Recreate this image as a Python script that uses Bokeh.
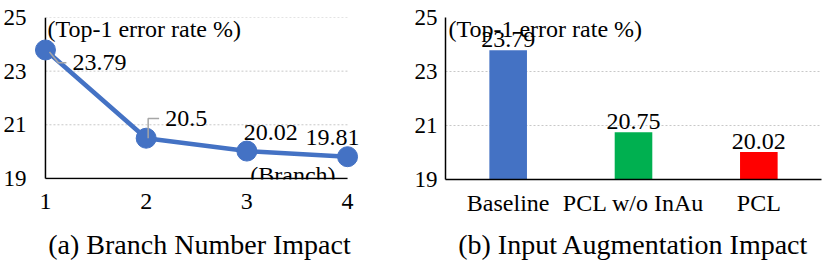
from bokeh.plotting import figure
from bokeh.layouts import row
from bokeh.models import (ColumnDataSource, LabelSet, Label, Range1d, FactorRange,
                          FixedTicker)
from bokeh.core.properties import value
from bokeh.embed import file_html
from bokeh.resources import INLINE

# ---------------- data ----------------
branches = [1, 2, 3, 4]
branch_err = [23.79, 20.5, 20.02, 19.81]
y_ticks = [19, 21, 23, 25]
grid_vals = [21, 23, 25]

methods = ["Baseline", "PCL w/o InAu", "PCL"]
method_err = [23.79, 20.75, 20.02]
method_colors = ["#4472C4", "#00B050", "#FF0000"]

y_title = "(Top-1 error rate %)"
x_unit = "(Branch)"
caption_a = "(a) Branch Number Impact"
caption_b = "(b) Input Augmentation Impact"

# ---------------- style ----------------
FONT = "Liberation Serif"
BLUE = "#4472C4"
GRID = "#c8c8c8"
H = 264

# left chart geometry
PXX = 101.0            # px per branch unit
PAD_L, PAD_R = 12, 18  # px of frame around first/last branch
X0 = branches[0] - PAD_L / PXX
X1 = branches[-1] + PAD_R / PXX
FW1 = (X1 - X0) * PXX
MBL1, MBT1, MBB1 = 32, 15, 85
W1 = 411
MBR1 = int(round(W1 - MBL1 - FW1))
FH1 = H - MBT1 - MBB1
Y0 = 18.96
PXY = FH1 / (y_ticks[-1] - Y0)


def style_axis(ax, size, standoff, line=True):
    ax.axis_line_color = "black" if line else None
    ax.axis_line_width = 1.5
    ax.major_tick_out = 0
    ax.major_tick_in = 0
    ax.minor_tick_out = 0
    ax.minor_tick_in = 0
    ax.major_label_text_font = FONT
    ax.major_label_text_font_size = size
    ax.major_label_text_color = "black"
    ax.major_label_standoff = standoff


def caption(ax, text, standoff):
    ax.axis_label = text
    ax.axis_label_text_font = FONT
    ax.axis_label_text_font_size = "28px"
    ax.axis_label_text_font_style = "normal"
    ax.axis_label_text_color = "black"
    ax.axis_label_standoff = standoff


# ---------------- left: line chart ----------------
p1 = figure(width=W1, height=H, x_range=Range1d(X0, X1),
            y_range=Range1d(Y0, y_ticks[-1]),
            output_backend="svg", toolbar_location=None,
            min_border_left=MBL1, min_border_right=MBR1,
            min_border_top=MBT1, min_border_bottom=MBB1)
p1.outline_line_color = None
p1.xgrid.grid_line_color = None
p1.ygrid.grid_line_color = None
p1.xaxis.ticker = FixedTicker(ticks=branches)
p1.yaxis.ticker = FixedTicker(ticks=y_ticks)
style_axis(p1.xaxis[0], "24px", 14, line=False)
style_axis(p1.yaxis[0], "23px", 7, line=False)
caption(p1.xaxis[0], caption_a, 17)

# gridlines between first and last branch
p1.segment(x0=[branches[0]] * len(grid_vals), x1=[branches[-1]] * len(grid_vals),
           y0=grid_vals, y1=grid_vals, line_color=GRID, line_width=1,
           line_dash="2 2")
# axis lines
p1.segment(x0=[branches[0], branches[0]], x1=[branches[0], branches[-1]],
           y0=[y_ticks[0], y_ticks[0]], y1=[y_ticks[-1], y_ticks[0]],
           line_color="black", line_width=1.5)

p1.line(branches, branch_err, line_color=BLUE, line_width=4.5)
p1.scatter(branches, branch_err, size=20, fill_color=BLUE, line_color=BLUE)

# leader lines (pixel offsets, converted to data units)
lead_idx = [0, 1]
lead_dx = [[4, 13, 21], [2, 2, 13]]
lead_dy = [[-2, -13, -13], [0, 20, 20]]
lxs, lys = [], []
for k, i in enumerate(lead_idx):
    lxs.append([branches[i] + d / PXX for d in lead_dx[k]])
    lys.append([branch_err[i] + d / PXY for d in lead_dy[k]])
p1.multi_line(xs=lxs, ys=lys, line_color="#a6a6a6", line_width=1.5)

src1 = ColumnDataSource(dict(x=branches, y=branch_err,
                             t=[f"{v:g}" for v in branch_err],
                             dx=[54, 40, 24, -15], dy=[-13, 20, 19, 19]))
p1.add_layout(LabelSet(x="x", y="y", text="t", source=src1,
                       x_offset="dx", y_offset="dy",
                       text_font=value(FONT), text_font_size="24px",
                       text_align="center", text_baseline="middle",
                       text_color="black"))
p1.add_layout(Label(x=branches[0], y=y_ticks[-1], text=y_title, x_offset=2,
                    y_offset=2, text_font=FONT, text_font_size="24px",
                    text_baseline="top", text_align="left", text_color="black"))
p1.add_layout(Label(x=branches[-1], y=y_ticks[0], text=x_unit, x_offset=-12,
                    y_offset=3, text_font=FONT, text_font_size="24px",
                    text_baseline="alphabetic", text_align="right",
                    text_color="black"))

# ---------------- right: bar chart ----------------
W2 = 822 - W1
MBL2, MBR2, MBT2 = 31, 1, 17
MBB2 = 85
p2 = figure(width=W2, height=H, x_range=FactorRange(*methods),
            y_range=Range1d(y_ticks[0], y_ticks[-1]),
            output_backend="svg", toolbar_location=None,
            min_border_left=MBL2, min_border_right=MBR2,
            min_border_top=MBT2, min_border_bottom=MBB2)
p2.outline_line_color = None
p2.xgrid.grid_line_color = None
p2.ygrid.ticker = FixedTicker(ticks=y_ticks)
p2.ygrid.grid_line_color = GRID
p2.ygrid.grid_line_dash = "2 2"
p2.ygrid.grid_line_width = 1
p2.yaxis.ticker = FixedTicker(ticks=y_ticks)
style_axis(p2.xaxis[0], "24px", 10)
style_axis(p2.yaxis[0], "23px", 8)
caption(p2.xaxis[0], caption_b, 10)

src2 = ColumnDataSource(dict(x=methods, top=method_err, c=method_colors,
                             t=[f"{v:g}" for v in method_err]))
p2.vbar(x="x", top="top", bottom=y_ticks[0], width=0.3, fill_color="c",
        line_color=None, source=src2)
p2.add_layout(LabelSet(x="x", y="top", text="t", source=src2, y_offset=3,
                       text_font=value(FONT), text_font_size="24px",
                       text_align="center", text_baseline="alphabetic",
                       text_color="black"))
p2.add_layout(Label(x=0, y=y_ticks[-1], text=y_title, x_offset=3,
                    y_offset=2, text_font=FONT, text_font_size="24px",
                    text_baseline="top", text_align="left", text_color="black"))

layout = row(p1, p2)
open("out.html", "w").write(file_html(layout, INLINE))
